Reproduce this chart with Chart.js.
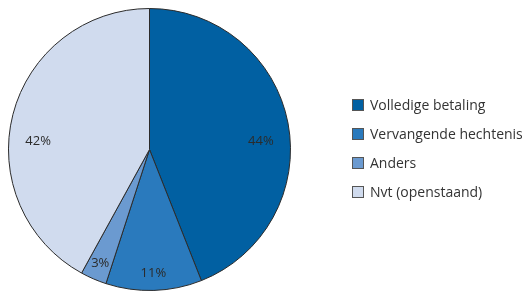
<!DOCTYPE html>
<html>
<head>
<meta charset="utf-8">
<script src="https://cdn.jsdelivr.net/npm/chart.js@4/dist/chart.umd.min.js"></script>
<style>
html,body{margin:0;padding:0;background:#fff}
#wrap{position:relative;width:522px;height:291px}
</style>
</head>
<body>
<div id="wrap"><canvas id="c" width="522" height="291"></canvas></div>
<script>
// data
const labels=['Volledige betaling','Vervangende hechtenis','Anders','Nvt (openstaand)'];
const values=[44,11,3,42];
const colors=['#0160a2','#2a7abd','#6b9ad0','#d0dbee'];

// labels in slices + legend on the right
const piePlug={
  id:'piePlug',
  afterDatasetsDraw(ch){
    const c=ch.ctx, arcs=ch.getDatasetMeta(0).data;
    c.save();
    c.font='13px "Open Sans", sans-serif';
    c.fillStyle='#2b2b2b';c.textAlign='center';c.textBaseline='middle';
    arcs.forEach((a,i)=>{
      const {x,y,startAngle,endAngle,outerRadius}=a.getProps(['x','y','startAngle','endAngle','outerRadius'],true);
      let ang=(startAngle+endAngle)/2, r=outerRadius*0.88, dy=0;
      // grote segmenten: label horizontaal leggen
      const rt=0, lf=Math.PI;
      const norm=v=>{while(v<startAngle)v+=Math.PI*2;return v;};
      if(endAngle-startAngle>Math.PI/2){
        if(norm(rt)<endAngle){ang=rt;}
        else if(norm(lf)<endAngle){ang=lf;}
        r=outerRadius*0.79;dy=-8;
      }
      c.fillText(values[i]+'%',x+Math.cos(ang)*r,y+Math.sin(ang)*r+dy);
    });
    // legenda
    c.textAlign='left';c.font='14px "Open Sans", sans-serif';
    labels.forEach((l,i)=>{
      const y=105+i*29;
      c.fillStyle=colors[i];c.fillRect(352.5,y-5.5,11,11);
      c.strokeStyle='#555';c.lineWidth=1;c.strokeRect(352.5,y-5.5,11,11);
      c.fillStyle='#333';c.fillText(l,370,y+1);
    });
    c.restore();
  }
};

new Chart(document.getElementById('c'),{
  type:'pie',
  data:{labels,datasets:[{data:values,backgroundColor:colors,borderColor:'#2b2b2b',borderWidth:1}]},
  options:{
    responsive:false,animation:false,
    layout:{padding:{left:7,right:230,top:8,bottom:0}},
    plugins:{legend:{display:false},tooltip:{enabled:false}}
  },
  plugins:[piePlug]
});
</script>
</body>
</html>
